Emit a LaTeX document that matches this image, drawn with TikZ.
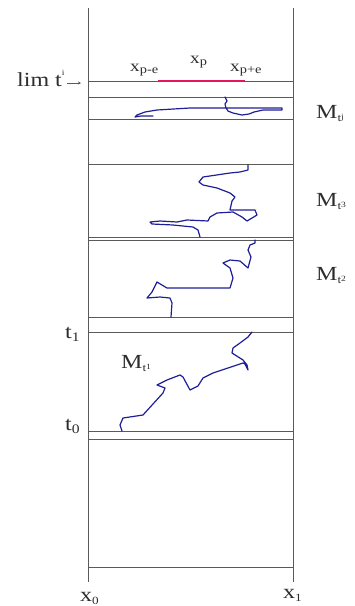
\documentclass[tikz,border=0pt]{standalone}
\usepackage{fontspec}
\usepackage{graphicx}
\setmainfont{Liberation Serif}
\usetikzlibrary{arrows.meta}
\definecolor{pathblue}{RGB}{30,30,150}
\definecolor{limred}{RGB}{228,20,95}
\definecolor{linegray}{RGB}{90,90,90}
\definecolor{textgray}{RGB}{45,45,45}
\newcommand{\widetxt}[1]{\scalebox{1.2}[1]{#1}}
\newcommand{\fs}[1]{\fontsize{#1}{#1}\selectfont}
\begin{document}
\begin{tikzpicture}[x=1pt,y=-1pt,
  hline/.style={draw=linegray,line width=0.8pt},
  walk/.style={draw=pathblue,line width=1.2pt,line join=round,line cap=round},
  biglbl/.style={font=\fs{20},text=textgray,inner sep=0pt,anchor=base west},
  smalllbl/.style={font=\fs{16},text=textgray,inner sep=0pt,anchor=base west}]
\useasboundingbox (0,0) rectangle (355,606);
% frame verticals
\coordinate (lt) at (88,8); \coordinate (lb) at (88,582);
\coordinate (rt) at (293,8); \coordinate (rb) at (293,582);
\draw[hline] (lt) -- (lb);
\draw[hline] (rt) -- (rb);
% horizontal lines
\foreach \y in {81,97,119,164,237,240,317,332,431,439,567}{
  \draw[hline] (88,\y) -- (293,\y);
}
% red interval
\coordinate (ra) at (158,81); \coordinate (rbb) at (245,81);
\draw[limred,line width=1.6pt] (ra) -- (rbb);
% labels
\node[biglbl] (lim) at (17,86) {\widetxt{lim t\raisebox{1.1ex}{\fs{8}i}}};
\coordinate (arrA) at (67,83); \coordinate (arrB) at (81,83);
\draw[linegray,line width=0.6pt,-{Stealth[length=3pt,width=3pt]}] (arrA) -- (arrB);
\node[smalllbl] (xpe) at (130,71) {\widetxt{x\raisebox{-0.35ex}{\fs{12}p-e}}};
\node[smalllbl] (xp) at (190,63) {\widetxt{x\raisebox{-0.35ex}{\fs{12}p}}};
\node[smalllbl] (xpp) at (230,71) {\widetxt{x\raisebox{-0.35ex}{\fs{12}p+e}}};
\node[biglbl] (mj) at (316,118) {\widetxt{M\raisebox{-0.4ex}{\fs{11}t\raisebox{0.5ex}{\fs{8}j}}}};
\node[biglbl] (m3) at (316,206) {\widetxt{M\raisebox{-0.4ex}{\fs{11}t\raisebox{0.5ex}{\fs{8}3}}}};
\node[biglbl] (m2) at (316,280) {\widetxt{M\raisebox{-0.4ex}{\fs{11}t\raisebox{0.5ex}{\fs{8}2}}}};
\node[biglbl] (m1) at (121,368) {\widetxt{M\raisebox{-0.4ex}{\fs{11}t\raisebox{0.5ex}{\fs{8}1}}}};
\node[biglbl] (t1) at (65,338) {\widetxt{t\raisebox{-0.4ex}{\fs{13}1}}};
\node[biglbl] (t0) at (65,430) {\widetxt{t\raisebox{-0.4ex}{\fs{13}0}}};
\node[biglbl] (x0) at (80,601) {\widetxt{x\raisebox{-0.4ex}{\fs{11}0}}};
\node[biglbl] (x1) at (283,598) {\widetxt{x\raisebox{-0.4ex}{\fs{11}1}}};
% walk in M_t^j
\draw[walk] (225,97) -- (227,101) -- (225,104) -- (226,108) -- (228,111) -- (233,113) -- (242,115) -- (249,114) -- (254,112) -- (263,110) -- (282,110) -- (282,108) -- (227,108) -- (190,108) -- (157,110) -- (145,112) -- (137,115) -- (135,117) -- (141,116) -- (153,116);
% walk in M_t^3
\draw[walk] (248,165) -- (248,170) -- (240,172) -- (230,173) -- (203,177) -- (199,182) -- (203,185) -- (217,188) -- (230,193) -- (235,197) -- (232,201) -- (230,210) -- (255,210) -- (257,215) -- (247,221) -- (242,217) -- (233,212) -- (217,213) -- (210,217) -- (208,221) -- (187,220) -- (177,222) -- (160,221) -- (150,222) -- (152,224) -- (173,225) -- (193,227) -- (198,230) -- (200,237);
% walk in M_t^2
\draw[walk] (255,240) -- (255,243) -- (250,245) -- (248,250) -- (251,257) -- (248,268) -- (240,261) -- (230,260) -- (223,263) -- (230,268) -- (233,278) -- (230,288) -- (167,288) -- (157,282) -- (152,292) -- (147,298) -- (160,297) -- (170,298) -- (172,303) -- (171,317);
% walk in M_t^1
\draw[walk] (252,332) -- (248,337) -- (240,343) -- (233,348) -- (232,353) -- (243,360) -- (247,365) -- (248,370) -- (245,364) -- (243,363) -- (213,373) -- (203,378) -- (198,386) -- (190,390) -- (183,377) -- (180,375) -- (167,380) -- (157,385) -- (165,388) -- (163,393) -- (143,415) -- (123,418) -- (120,425) -- (122,431);
\end{tikzpicture}
\end{document}
